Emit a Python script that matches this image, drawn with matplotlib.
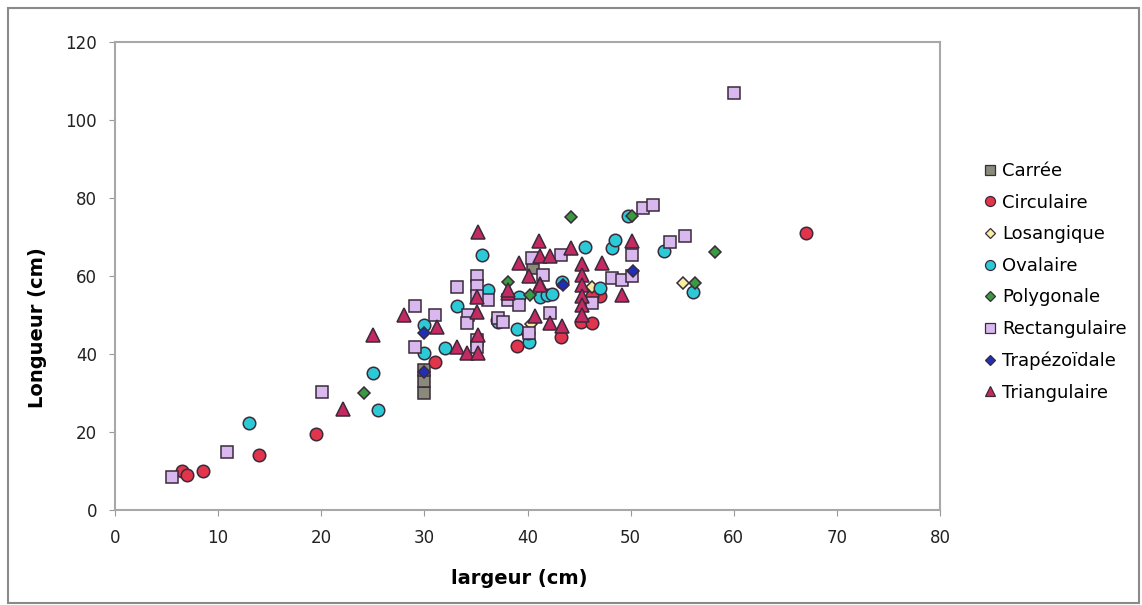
import matplotlib
matplotlib.use("Agg")
import matplotlib.pyplot as plt
from matplotlib.patches import Rectangle
from matplotlib.lines import Line2D

# ---------------- data (largeur, longueur) ----------------
carree_x = [30, 30, 30, 40.5]
carree_y = [30, 33, 36, 62]

circ_x = [6.5, 7, 8.5, 14, 19.5, 31, 39, 43.2, 45.2, 46.3, 47, 46.3, 67]
circ_y = [10, 9, 10, 14, 19.5, 38, 42, 44.4, 48.2, 48, 55, 55, 71]

losa_x = [46.3, 55.1, 40.3]
losa_y = [57.2, 58.2, 47.7]

oval_x = [13, 25, 25.5, 30, 30, 32, 33.2, 35.6, 36.2, 37, 39, 40.1, 39.2, 41.2,
          41.9, 42.4, 43.3, 45.6, 47, 48.2, 48.5, 49.7, 53.2, 56, 40, 37.1]
oval_y = [22.3, 35.2, 25.6, 40.3, 47.4, 41.6, 52.2, 65.4, 56.4, 48.7, 46.5, 43,
          54.5, 54.6, 55.1, 55.4, 58.5, 67.5, 57, 67.2, 69.2, 75.4, 66.4, 56, 45.3, 48.2]

poly_x = [24.1, 38.1, 40.2, 44.2, 50.1, 56.2, 58.2]
poly_y = [30, 58.4, 55.1, 75.2, 75.4, 58.2, 66.2]

rect_x = [5.5, 10.9, 20.1, 29.1, 29.1, 31, 33.2, 34.2, 34.1, 35.1, 35.1, 35.1, 35.1,
          36.2, 37.1, 37.6, 38.1, 39.2, 40.1, 40.4, 41.5, 42.2, 43.2, 46.3, 48.2, 49.2,
          50.1, 50.1, 51.2, 52.2, 53.8, 55.3, 60, 35.1]
rect_y = [8.5, 14.9, 30.3, 41.8, 52.2, 50, 57.2, 50, 48, 60, 57.4, 43.6, 41.8,
          53.8, 49.2, 48.2, 53.8, 52.6, 45.4, 64.5, 60.3, 50.6, 65.4, 53.2, 59.6, 59,
          65.4, 60, 77.4, 78.2, 68.7, 70.3, 107, 55]

trap_x = [30, 30, 43.4, 50.2]
trap_y = [35.4, 45.4, 57.6, 61.3]

tri_x = [22.1, 25, 28, 31.2, 33.2, 34.1, 35.2, 35.2, 35.1, 35.1, 35.2, 38.1, 39.2,
         40.1, 41.1, 41.2, 42.2, 44.2, 41.2, 40.7, 42.2, 43.3, 38.1, 45.3, 45.3, 45.3,
         45.3, 45.3, 45.3, 47.2, 50.1, 49.2, 41.2]
tri_y = [25.8, 45, 50, 47, 41.8, 40.2, 40.2, 71.2, 54.6, 50.8, 44.8, 55.6, 63.3,
         60, 69, 65.2, 65.2, 67.2, 58, 49.8, 48, 47.2, 56.4, 63, 60.3, 57.7,
         55, 52.6, 50, 63.3, 69, 55.1, 57.7]

series_names = ["Carrée", "Circulaire", "Losangique", "Ovalaire", "Polygonale",
                "Rectangulaire", "Trapézoïdale", "Triangulaire"]
series_x = [carree_x, circ_x, losa_x, oval_x, poly_x, rect_x, trap_x, tri_x]
series_y = [carree_y, circ_y, losa_y, oval_y, poly_y, rect_y, trap_y, tri_y]

x_ticks = [0, 10, 20, 30, 40, 50, 60, 70, 80]
y_ticks = [0, 20, 40, 60, 80, 100, 120]

# ---------------- styles ----------------
markers = ["s", "o", "D", "o", "D", "s", "D", "^"]
faces = ["#8a8a7a", "#e2344a", "#f6eea0", "#2cc9d6", "#3a9a40",
         "#d8b8ee", "#1e2fb8", "#c42a62"]
sizes = [9, 9, 6.2, 9, 6.2, 9, 6.2, 9.5]

plt.rcParams['font.family'] = ['DejaVu Sans']
fig = plt.figure(figsize=(11.42, 6.05), dpi=100)
ax = fig.add_axes([115/1142, 1-510/605, 825/1142, 468/605])

for nm, xs, ys, mk, fc, ms in zip(series_names, series_x, series_y, markers, faces, sizes):
    ax.plot(xs, ys, linestyle="none", marker=mk, markersize=ms,
            markerfacecolor=fc, markeredgecolor="#3a2a3a", markeredgewidth=1.1,
            label=nm)

ax.set_xlim(0, 80)
ax.set_ylim(0, 120)
ax.set_xticks(x_ticks)
ax.set_yticks(y_ticks)
ax.tick_params(axis="both", labelsize=12, colors="#222222", length=4,
               direction="out", color="#999999")
ax.tick_params(axis="x", pad=10)
ax.tick_params(axis="y", pad=9)
for s in ax.spines.values():
    s.set_color("#a8a8a8")
    s.set_linewidth(1.5)

ax.set_xlabel("largeur (cm)", fontsize=14, fontweight="bold")
ax.set_ylabel("Longueur (cm)", fontsize=14, fontweight="bold")
ax.xaxis.set_label_coords(0.49, -0.125)
ax.yaxis.set_label_coords(-0.083, 0.39)

handles = [Line2D([], [], linestyle="none", marker=mk, markersize=ms * 0.8,
                  markerfacecolor=fc, markeredgecolor="#3a2a3a", markeredgewidth=0.9)
           for mk, fc, ms in zip(markers, faces, sizes)]
leg = fig.legend(handles, series_names, loc="upper left",
                 bbox_to_anchor=(977/1142, 1-155/605), frameon=False,
                 fontsize=13, handlelength=0.6, handletextpad=0.4,
                 labelspacing=0.75, borderaxespad=0)

fig.patches.append(Rectangle((8/1142, 0.003), 1 - 11/1142, 1 - 8/605 - 0.003,
                             transform=fig.transFigure, fill=False,
                             edgecolor="#8a8a8a", linewidth=1.5))

fig.savefig("out.png", dpi=100)
